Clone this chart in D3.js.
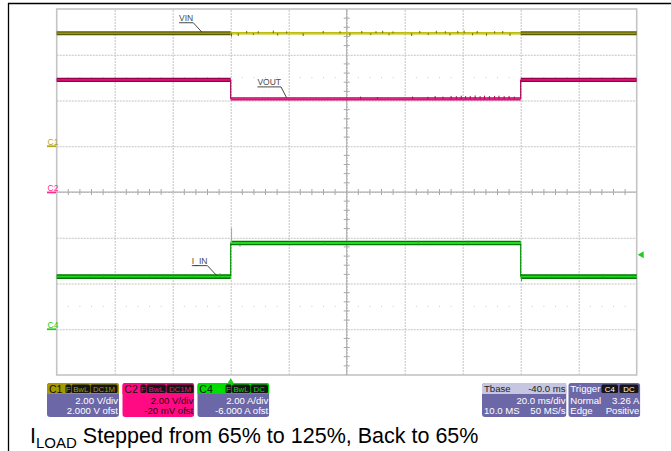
<!DOCTYPE html>
<html><head><meta charset="utf-8">
<script src="https://cdn.jsdelivr.net/npm/d3@7"></script>
<style>body{margin:0;background:#fff}svg{display:block;font-family:Arial,"Liberation Sans",sans-serif}</style>
</head><body><svg id="c" width="671" height="451"></svg>
<script>
// ---------------- data (read from the scope shot) ----------------
const segTimesMs = [-60, 0, 100, 140];          // load step edges
const vinLevelsV = [4.94, 4.94, 4.94];
const voutLevelsV = [4.92, 4.09, 4.92];
const iinLevelsA = [2.30, 3.77, 2.30];
const iinSpikeA = 4.43;                          // overshoot at t = 0
const vinGlitchMs = [0.3, 2.6, 5.5, 7.8, 9.5, 14.7, 16.2, 19.3, 25.0, 31.9, 37.7, 41.1, 45.2, 48.3, 50.1, 52.4, 54.6, 56.0, 62.4, 65.2, 68.1, 70.9, 74.0, 75.6, 78.3, 80.5, 83.4, 85.0, 88.2, 91.0, 93.8, 96.3];
const vinGlitchV = [-0.15, -0.12, 0.10, -0.08, 0.09, 0.12, -0.10, 0.08, -0.12, 0.10, 0.09, -0.11, 0.10, -0.08, 0.09, 0.11, -0.09, 0.08, -0.12, 0.10, -0.08, 0.11, 0.09, -0.10, 0.10, 0.12, -0.09, 0.10, -0.11, 0.09, 0.10, -0.12];
const voutGlitchMs = [44.8, 50.6, 62.7, 68.0, 70.5, 73.2, 76.0, 77.8, 79.5, 81.0, 82.6, 84.3, 86.0, 87.5, 89.2, 91.0, 92.5, 94.3, 96.0, 97.8];
const voutGlitchV = [0.10, 0.08, 0.10, 0.09, 0.12, 0.10, 0.13, 0.12, 0.14, 0.12, 0.13, 0.15, 0.12, 0.14, 0.12, 0.13, 0.14, 0.12, 0.13, 0.10];
const iinGlitchMs = [-58.9, -52.6, -48.5, -46.8, -43.9, -35.3, -30.7, -27.8, -25.5, -23.2, -21.5, -19.8, -14.0, -12.9, -5.4, -3.7, -2.0, 3.2, 32.5, 64.7, 81.9, 100.3, 110.7, 112.4, 114.7, 119.9, 123.3, 128.0, 128.7, 133.6, 138.8];
const iinGlitchA = [0.12, 0.10, 0.12, 0.10, 0.12, 0.10, 0.10, 0.12, 0.10, 0.12, 0.10, 0.12, 0.10, 0.12, 0.12, 0.14, 0.12, -0.15, -0.08, 0.10, 0.10, -0.20, 0.12, 0.10, 0.10, 0.12, 0.10, 0.12, 0.12, 0.10, 0.12];
const triggerLevelA = 3.26;
const channelNames = ["C1", "C2", "C4"];
const channelPerDiv = [2, 2, 2];                 // V/div, V/div, A/div
const channelOffset = [2.0, -0.02, -6.0];        // V, V, A
const channelDivText = ["2.00 V/div", "2.00 V/div", "2.00 A/div"];
const channelOfstText = ["2.000 V ofst", "-20 mV ofst", "-6.000 A ofst"];
const channelBadges = [["F", "BwL", "DC1M"], ["F", "BwL", "DC1M"], ["F", "BwL", "DC"]];
const traceLabels = ["VIN", "VOUT", "I_IN"];
const timebaseText = ["Tbase", "-40.0 ms", "20.0 ms/div", "10.0 MS", "50 MS/s"];
const triggerText = ["Trigger", "Normal", "3.26 A", "Edge", "Positive"];
const triggerBadges = ["C4", "DC"];

// ---------------- layout ----------------
const svg = d3.select("#c");
const L = 56.7, R = 636.7, T = 9, B = 375;
const x = d3.scaleLinear().domain([-60, 140]).range([L, R]);
const yd = d3.scaleLinear().domain([-4, 4]).range([B, T]);
const yCh = (ch, v) => yd((v + channelOffset[ch]) / channelPerDiv[ch]);

// frame
svg.append("line").attr("x1", 8).attr("x2", 671).attr("y1", 3.5).attr("y2", 3.5).attr("stroke", "#000").attr("stroke-width", 1.3);
svg.append("line").attr("x1", 8.5).attr("x2", 8.5).attr("y1", 3).attr("y2", 451).attr("stroke", "#000").attr("stroke-width", 1.3);

// grid via axes
const gx = svg.append("g").attr("transform", `translate(0,${B})`)
  .call(d3.axisBottom(x).tickValues(d3.range(-40, 140, 20)).tickSize(-(B - T)).tickFormat(""));
const gy = svg.append("g").attr("transform", `translate(${L},0)`)
  .call(d3.axisLeft(yd).tickValues(d3.range(-3, 4, 1)).tickSize(-(R - L)).tickFormat(""));
[gx, gy].forEach(g => {
  g.select(".domain").remove();
  g.selectAll(".tick line").attr("stroke", "#c2c2c2").attr("stroke-dasharray", "2,1");
});
// plot border
svg.append("rect").attr("x", L).attr("y", T).attr("width", R - L).attr("height", B - T)
  .attr("fill", "none").attr("stroke", "#c4c4c4").attr("stroke-width", 1.6);

// centre axes with minor ticks
const cx = x(40), cy = yd(0);
svg.append("line").attr("x1", cx).attr("x2", cx).attr("y1", T).attr("y2", B).attr("stroke", "#a8a8a8");
svg.append("line").attr("x1", L).attr("x2", R).attr("y1", cy).attr("y2", cy).attr("stroke", "#a8a8a8");
const minorT = d3.range(-60, 140.01, 4).filter(t => (t + 60) % 20 !== 0);
const minorD = d3.range(-4, 4.001, 0.2).filter(d => Math.abs(d - Math.round(d)) > 1e-6);
svg.append("g").selectAll("line").data(minorT).join("line")
  .attr("x1", d => x(d)).attr("x2", d => x(d)).attr("y1", cy - 3).attr("y2", cy + 3).attr("stroke", "#a8a8a8");
svg.append("g").selectAll("line").data(minorD).join("line")
  .attr("x1", cx - 3).attr("x2", cx + 3).attr("y1", d => yd(d)).attr("y2", d => yd(d)).attr("stroke", "#a8a8a8");
// dotted minor tick rows at +/-2.5 div
[2.5, -2.5].forEach(r => {
  svg.append("g").selectAll("line").data(minorT).join("line")
    .attr("x1", d => x(d)).attr("x2", d => x(d)).attr("y1", yd(r) - 0.5).attr("y2", yd(r) + 0.5).attr("stroke", "#c8c8c8");
});

// ---------------- traces ----------------
const styles = {
  vin: [{o: "#5a5a00", i: "#969612", w: 4.2}, {o: "#b4b400", i: "#d6d630", w: 2.4}, {o: "#5a5a00", i: "#969612", w: 4.2}],
  vout: [{o: "#98004a", i: "#e0107a", w: 4.4}, {o: "#c0005c", i: "#ea3090", w: 3.2}, {o: "#98004a", i: "#e0107a", w: 4.4}],
  iin: [{o: "#007800", i: "#22d822", w: 4.6}, {o: "#007800", i: "#22d822", w: 4.6}, {o: "#007800", i: "#22d822", w: 4.6}]
};
function drawTrace(ch, levels, st, stepColor) {
  const g = svg.append("g");
  for (let k = 1; k < levels.length; k++) {
    g.append("line").attr("x1", x(segTimesMs[k])).attr("x2", x(segTimesMs[k]))
      .attr("y1", yCh(ch, levels[k - 1])).attr("y2", yCh(ch, levels[k])).attr("stroke", stepColor).attr("stroke-width", 1.2);
  }
  levels.forEach((v, k) => {
    const yy = yCh(ch, v);
    g.append("line").attr("x1", x(segTimesMs[k])).attr("x2", x(segTimesMs[k + 1])).attr("y1", yy).attr("y2", yy)
      .attr("stroke", st[k].o).attr("stroke-width", st[k].w);
    g.append("line").attr("x1", x(segTimesMs[k])).attr("x2", x(segTimesMs[k + 1])).attr("y1", yy).attr("y2", yy)
      .attr("stroke", st[k].i).attr("stroke-width", st[k].w * 0.4);
  });
  return g;
}
function levelAt(levels, t) {
  let k = d3.bisectRight(segTimesMs, t) - 1;
  k = Math.max(0, Math.min(levels.length - 1, k));
  return levels[k];
}
function drawGlitches(ch, levels, ts, vs, color) {
  svg.append("g").selectAll("line").data(ts).join("line")
    .attr("x1", d => x(d)).attr("x2", d => x(d))
    .attr("y1", d => yCh(ch, levelAt(levels, d)))
    .attr("y2", (d, i) => yCh(ch, levelAt(levels, d) + vs[i]))
    .attr("stroke", color).attr("stroke-width", 1);
}
drawTrace(0, vinLevelsV, styles.vin, "#6a6a00");
drawGlitches(0, vinLevelsV, vinGlitchMs, vinGlitchV, "#6a6a00");
drawTrace(1, voutLevelsV, styles.vout, "#a0004e");
drawGlitches(1, voutLevelsV, voutGlitchMs, voutGlitchV, "#b0005a");
drawTrace(2, iinLevelsA, styles.iin, "#009000");
svg.append("line").attr("x1", x(0.3)).attr("x2", x(0.3)).attr("y1", yCh(2, iinLevelsA[1])).attr("y2", yCh(2, iinSpikeA))
  .attr("stroke", "#6fc86f").attr("stroke-width", 1);
drawGlitches(2, iinLevelsA, iinGlitchMs, iinGlitchA, "#2a9a2a");

// ---------------- trace labels ----------------
const labelPos = [
  {t: -17.8, ch: 0, lt: -9.9, dy: -12},    // VIN
  {t: 9.2, ch: 1, lt: 19.3, dy: -13.5},    // VOUT
  {t: -13.4, ch: 2, lt: -4.8, dy: -12.5}   // I_IN
];
traceLabels.forEach((lab, i) => {
  const p = labelPos[i];
  const levels = [vinLevelsV, voutLevelsV, iinLevelsA][i];
  const yy = yCh(p.ch, levelAt(levels, p.lt));
  const tx = x(p.t), ty = yy + p.dy;
  const t = svg.append("text").attr("x", tx).attr("y", ty).attr("font-size", 8.5).attr("fill", "#4a4a4a").text(lab);
  const w = t.node().getComputedTextLength();
  svg.append("line").attr("x1", tx).attr("x2", tx + w).attr("y1", ty + 1.5).attr("y2", ty + 1.5).attr("stroke", "#333").attr("stroke-width", 0.9);
  svg.append("line").attr("x1", tx + w).attr("x2", x(p.lt)).attr("y1", ty + 1.5).attr("y2", yy - 1).attr("stroke", "#333").attr("stroke-width", 0.9);
});

// ---------------- channel ground markers ----------------
const chColor = ["#b0a820", "#ff2a92", "#22cc22"];
channelNames.forEach((n, i) => {
  const yy = yCh(i, 0);
  svg.append("line").attr("x1", 47).attr("x2", 56).attr("y1", yy).attr("y2", yy).attr("stroke", chColor[i]).attr("stroke-width", 1.8);
  svg.append("text").attr("x", 47.5).attr("y", yy - 1.5).attr("font-size", 8.5).attr("fill", chColor[i]).text(n);
});
// trigger markers
svg.append("path").attr("d", `M${x(0)},${B + 3} l-3.5,6 h7 z`).attr("fill", "#22cc22");
svg.append("path").attr("d", `M${R + 1},${yCh(2, triggerLevelA)} l6,-3.5 v7 z`).attr("fill", "#22cc22");

// ---------------- info boxes ----------------
const boxFill = "#6c68a8";
const boxY = 383, boxH = 34;
const chBoxX = [47, 122.3, 197.3], chBoxW = 72;
const hdrFill = ["#a89800", "#ff0a82", "#00dd00"];
const badgeX = [[65.5, 71.5, 90.5], [140.5, 146.5, 166.5], [225.5, 232, 250.5]];
const badgeW = [[5.5, 18.5, 27], [5.5, 19.3, 27], [6, 18, 17.5]];
channelNames.forEach((n, i) => {
  const bx = chBoxX[i];
  const clip = svg.append("clipPath").attr("id", "cb" + i);
  clip.append("rect").attr("x", bx).attr("y", boxY).attr("width", chBoxW).attr("height", boxH).attr("rx", 3);
  const g = svg.append("g").attr("clip-path", `url(#cb${i})`);
  g.append("rect").attr("x", bx).attr("y", boxY).attr("width", chBoxW).attr("height", boxH).attr("fill", i === 1 ? hdrFill[1] : boxFill);
  g.append("rect").attr("x", bx).attr("y", boxY).attr("width", chBoxW).attr("height", 11).attr("fill", hdrFill[i]);
  g.append("text").attr("x", bx + 2).attr("y", boxY + 9.5).attr("font-size", 10.5).attr("fill", "#111").text(n);
  channelBadges[i].forEach((b, k) => {
    g.append("rect").attr("x", badgeX[i][k]).attr("y", boxY + 1.5).attr("width", badgeW[i][k]).attr("height", 8.5).attr("rx", 1.5).attr("fill", "#151515");
    g.append("text").attr("x", badgeX[i][k] + badgeW[i][k] / 2).attr("y", boxY + 8.8).attr("text-anchor", "middle")
      .attr("font-size", 7.8).attr("fill", hdrFill[i]).text(b);
  });
  const tc = i === 1 ? "#2a0010" : "#fff";
  g.append("text").attr("x", bx + chBoxW - 1).attr("y", boxY + 20.5).attr("text-anchor", "end").attr("font-size", 9.6).attr("fill", tc).text(channelDivText[i]);
  g.append("text").attr("x", bx + chBoxW - 1).attr("y", boxY + 31.3).attr("text-anchor", "end").attr("font-size", 9.6).attr("fill", tc).text(channelOfstText[i]);
});

// timebase box
(function () {
  const bx = 482, bw = 84.5;
  const clip = svg.append("clipPath").attr("id", "tb");
  clip.append("rect").attr("x", bx).attr("y", boxY).attr("width", bw).attr("height", boxH).attr("rx", 3);
  const g = svg.append("g").attr("clip-path", "url(#tb)");
  g.append("rect").attr("x", bx).attr("y", boxY).attr("width", bw).attr("height", boxH).attr("fill", boxFill);
  g.append("rect").attr("x", bx).attr("y", boxY).attr("width", bw).attr("height", 11).attr("fill", "#c6c6e0");
  g.append("text").attr("x", bx + 2).attr("y", boxY + 9.3).attr("font-size", 9.6).attr("fill", "#222").text(timebaseText[0]);
  g.append("text").attr("x", bx + bw - 1).attr("y", boxY + 9.3).attr("text-anchor", "end").attr("font-size", 9.6).attr("fill", "#222").text(timebaseText[1]);
  g.append("text").attr("x", bx + bw - 1).attr("y", boxY + 20.5).attr("text-anchor", "end").attr("font-size", 9.6).attr("fill", "#fff").text(timebaseText[2]);
  g.append("text").attr("x", bx + 2).attr("y", boxY + 31.3).attr("font-size", 9.6).attr("fill", "#fff").text(timebaseText[3]);
  g.append("text").attr("x", bx + bw - 1).attr("y", boxY + 31.3).attr("text-anchor", "end").attr("font-size", 9.6).attr("fill", "#fff").text(timebaseText[4]);
})();
// trigger box
(function () {
  const bx = 568.3, bw = 72;
  const clip = svg.append("clipPath").attr("id", "trg");
  clip.append("rect").attr("x", bx).attr("y", boxY).attr("width", bw).attr("height", boxH).attr("rx", 3);
  const g = svg.append("g").attr("clip-path", "url(#trg)");
  g.append("rect").attr("x", bx).attr("y", boxY).attr("width", bw).attr("height", boxH).attr("fill", boxFill);
  g.append("text").attr("x", bx + 2).attr("y", boxY + 9.3).attr("font-size", 9.6).attr("fill", "#fff").text(triggerText[0]);
  const bxs = [601.5, 619.5], bws = [16.5, 19];
  triggerBadges.forEach((b, k) => {
    g.append("rect").attr("x", bxs[k]).attr("y", boxY + 1.5).attr("width", bws[k]).attr("height", 8.5).attr("rx", 1.5).attr("fill", "#151515");
    g.append("text").attr("x", bxs[k] + bws[k] / 2).attr("y", boxY + 8.8).attr("text-anchor", "middle").attr("font-size", 7.8).attr("fill", "#fff").text(b);
  });
  g.append("text").attr("x", bx + 2).attr("y", boxY + 20.5).attr("font-size", 9.6).attr("fill", "#fff").text(triggerText[1]);
  g.append("text").attr("x", bx + bw - 1).attr("y", boxY + 20.5).attr("text-anchor", "end").attr("font-size", 9.6).attr("fill", "#fff").text(triggerText[2]);
  g.append("text").attr("x", bx + 2).attr("y", boxY + 31.3).attr("font-size", 9.6).attr("fill", "#fff").text(triggerText[3]);
  g.append("text").attr("x", bx + bw - 1).attr("y", boxY + 31.3).attr("text-anchor", "end").attr("font-size", 9.6).attr("fill", "#fff").text(triggerText[4]);
})();

// ---------------- caption ----------------
const cap = svg.append("text").attr("x", 30).attr("y", 443).attr("font-size", 21.5).attr("fill", "#000");
cap.append("tspan").text("I");
cap.append("tspan").attr("font-size", 15).attr("dy", 5).text("LOAD");
cap.append("tspan").attr("dy", -5).text(" Stepped from 65% to 125%, Back to 65%");
</script></body></html>
